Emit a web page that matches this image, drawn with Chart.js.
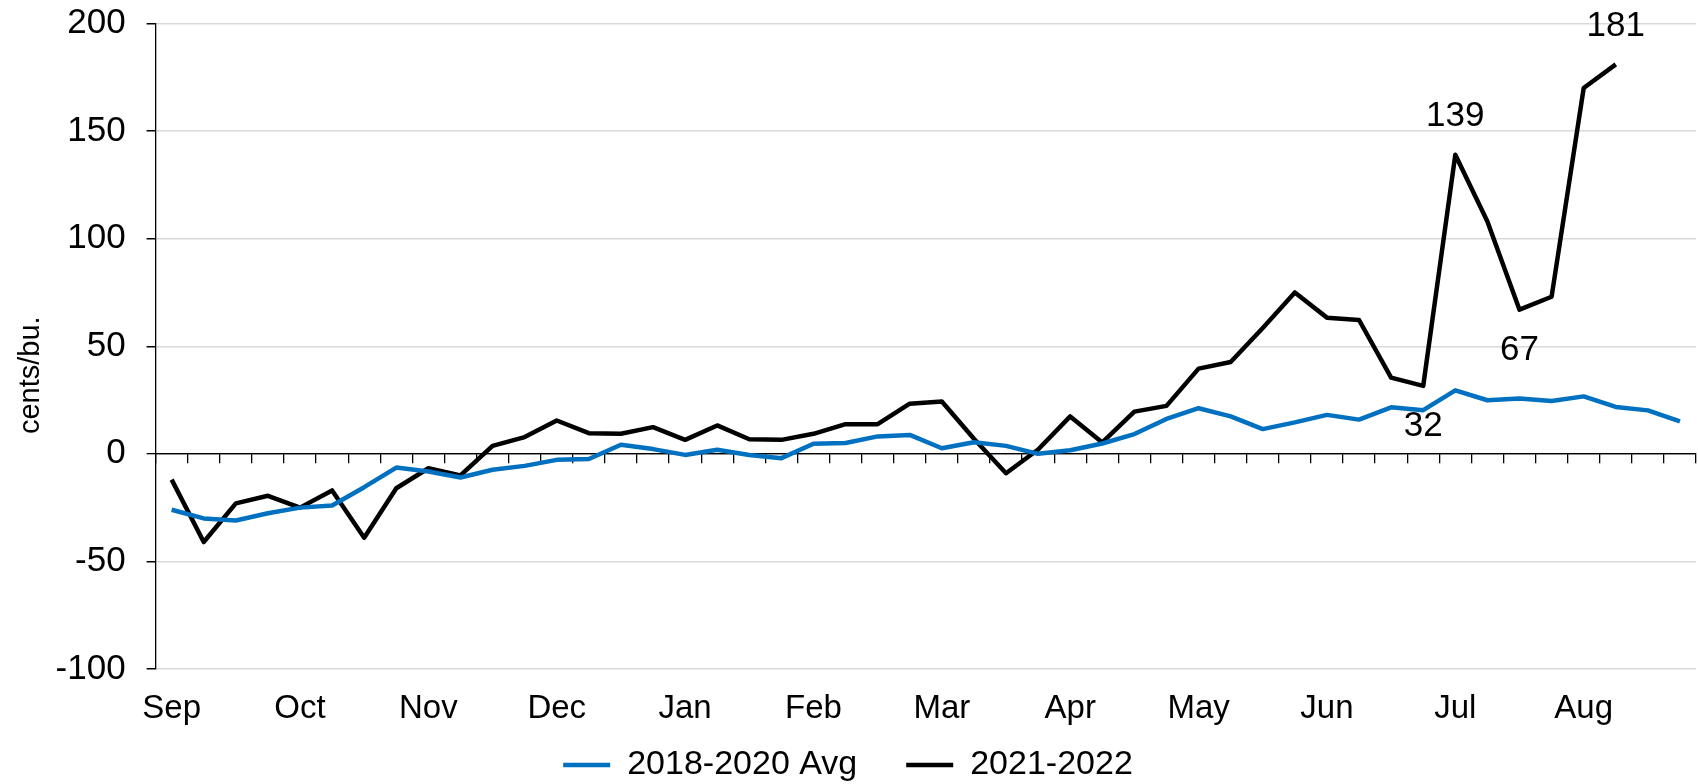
<!DOCTYPE html>
<html>
<head>
<meta charset="utf-8">
<script src="https://cdn.jsdelivr.net/npm/chart.js@4.4.1/dist/chart.umd.min.js"></script>
<style>
html, body { margin: 0; padding: 0; background: #fff; }
#wrap { width: 1698px; height: 784px; position: relative; }
</style>
</head>
<body>
<div id="wrap"><canvas id="basisChart"></canvas></div>
<script>
Chart.defaults.font.family = "'Liberation Sans', Arial, sans-serif";
Chart.defaults.font.size = 33;
Chart.defaults.color = '#000';

// weekly categories, month name on the first week of each month
const weekLabels = [
    'Sep', '', '', '', 'Oct', '', '', '', 'Nov', '', '', '', 'Dec', '', '', '',
    'Jan', '', '', '', 'Feb', '', '', '', 'Mar', '', '', '', 'Apr', '', '', '',
    'May', '', '', '', 'Jun', '', '', '', 'Jul', '', '', '', 'Aug', '', '', ''
];

// 2018-2020 average basis, cents/bu.
const avgBasis = [
    -26, -30, -31, -27.6, -25, -24, -15.5, -6.4, -8.2, -11, -7.4, -5.6,
    -2.8, -2.4, 4.2, 2.2, -0.5, 1.9, -0.5, -2, 4.7, 5, 8.1, 8.8,
    2.6, 5.4, 3.7, 0, 1.7, 4.8, 9.2, 16.2, 21.2, 17.4, 11.5, 14.6,
    18.1, 15.9, 21.6, 20.3, 29.5, 24.9, 25.7, 24.6, 26.7, 21.8, 20.2, 15.1
];

// 2021-2022 basis, cents/bu.
const currentBasis = [
    -12, -41, -23, -19.5, -25, -17, -39, -16, -6.7, -10, 3.7, 7.8,
    15.5, 9.6, 9.3, 12.4, 6.5, 13.2, 6.8, 6.5, 9.3, 13.8, 13.8, 23.3,
    24.3, 7, -9, 2, 17.4, 5.3, 19.6, 22.3, 39.6, 42.7, 58.5, 75,
    63.3, 62.2, 35.4, 31.6, 139, 108, 67, 73, 170, 181
];

// which points of the 2021-2022 line get a value label
const calloutIdx = [39, 40, 42, 45];
const calloutSide = ['below', 'above', 'below', 'above'];

const CHART_BOTTOM = 669;
const PAD_BOTTOM = -8;

const valueLabels = {
    id: 'valueLabels',
    afterDatasetsDraw(chart) {
        const meta = chart.getDatasetMeta(1);
        const ctx = chart.ctx;
        ctx.save();
        ctx.font = "35px 'Liberation Sans', Arial, sans-serif";
        ctx.fillStyle = '#000';
        ctx.textAlign = 'center';
        ctx.textBaseline = 'middle';
        calloutIdx.forEach((idx, k) => {
            const pt = meta.data[idx];
            const dy = calloutSide[k] === 'above' ? -38 : 41;
            ctx.fillText(String(Math.round(currentBasis[idx])), pt.x, pt.y + dy);
        });
        ctx.restore();
    }
};

const data = {
    labels: weekLabels,
    datasets: [{
        label: '2018-2020 Avg',
        data: avgBasis,
        borderColor: '#0070C0',
        backgroundColor: '#0070C0',
        borderWidth: 4.5,
        pointRadius: 0,
        tension: 0,
        borderJoinStyle: 'round',
        xAxisID: 'x',
        yAxisID: 'y'
    }, {
        label: '2021-2022',
        data: currentBasis,
        borderColor: '#000000',
        backgroundColor: '#000000',
        borderWidth: 4.5,
        pointRadius: 0,
        tension: 0,
        borderJoinStyle: 'round',
        xAxisID: 'x',
        yAxisID: 'y'
    }]
};

const options = {
    responsive: true,
    maintainAspectRatio: false,
    animation: false,
    layout: { padding: { top: 23.5, right: 2, left: 0, bottom: PAD_BOTTOM } },
    plugins: {
        tooltip: { enabled: false },
        legend: {
            position: 'bottom',
            labels: {
                usePointStyle: true,
                pointStyle: 'line',
                pointStyleWidth: 47,
                padding: 15,
                font: { size: 34 },
                generateLabels(chart) {
                    const items = Chart.defaults.plugins.legend.labels.generateLabels(chart);
                    items[0].text += '\u2003';
                    return items;
                }
            }
        }
    },
    scales: {
        x: {
            type: 'category',
            offset: true,
            grid: { display: false, drawTicks: false },
            border: { display: false },
            ticks: { autoSkip: false, maxRotation: 0, padding: 20, font: { size: 33 } },
            afterFit(scale) {
                scale.height = 784 - PAD_BOTTOM - CHART_BOTTOM - scale.chart.legend.height;
                scale.paddingLeft = 0;
                scale.paddingRight = 0;
            }
        },
        // zero line with weekly tick marks
        x2: {
            type: 'category',
            offset: true,
            position: { y: 0 },
            ticks: { display: false },
            grid: {
                offset: true,
                drawOnChartArea: false,
                drawTicks: true,
                tickLength: 9,
                color: '#000',
                lineWidth: 1.3
            },
            border: { display: true, color: '#000', width: 1.3 }
        },
        y: {
            min: -100,
            max: 200,
            ticks: { stepSize: 50, padding: 21, font: { size: 35 } },
            grid: {
                color: c => (c.tick && c.tick.value === 0) ? '#000' : '#d9d9d9',
                lineWidth: c => (c.tick && c.tick.value === 0) ? 1.3 : 1.5,
                tickColor: '#000',
                tickLength: 9
            },
            border: { color: '#000', width: 1.3 },
            title: {
                display: true,
                text: 'cents/bu.\u2003\u2003',
                font: { size: 29 },
                padding: { top: 14, bottom: 0 }
            },
            afterFit(scale) {
                scale.width = 155.6;
                scale.paddingTop = 0;
                scale.paddingBottom = 0;
            }
        }
    }
};

const config = {
    type: 'line',
    data: data,
    options,
    plugins: [valueLabels]
};

const basisChart = new Chart(document.getElementById('basisChart'), config);
</script>
</body>
</html>
